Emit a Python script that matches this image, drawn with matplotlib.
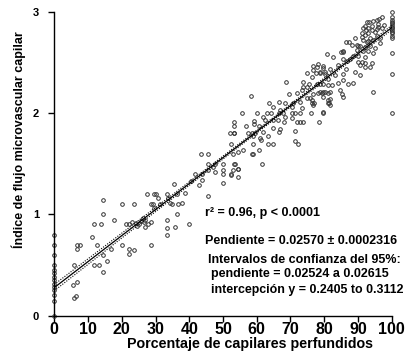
import numpy as np
import matplotlib
matplotlib.use("Agg")
import matplotlib.pyplot as plt

plt.rcParams["font.family"] = ["Liberation Sans", "DejaVu Sans"]
plt.rcParams["font.weight"] = "bold"

# %% data (x = % perfused capillaries, y = MFI)
x_zero = [0] * 14
y_zero = [0.80, 0.70, 0.60, 0.50, 0.45, 0.42, 0.38, 0.35, 0.31, 0.28, 0.25, 0.20, 0.14, 0.0]

x_low = [5.7, 5.4, 5.7, 6.4, 6.8, 6.6, 7.6, 6.6, 11.2, 11.9, 11.9, 12.6, 13.3, 13.7,
         14.3, 14.3, 14.3, 14.3, 15.5, 16.8, 17.8, 20.1, 20.1, 21.3, 22.0, 22.2, 22.2,
         23.1, 23.6, 23.6, 24.3, 26.9, 26.9, 27.4, 27.9, 28.6, 28.6, 29.2, 28.6, 29.6,
         30.2, 29.5, 30.7, 31.2, 33.3, 33.3, 33.3, 34.8, 35.5, 35.8, 36.3, 36.5, 36.8,
         33.8, 34.3, 26.4, 33.3, 25.2, 26.6, 25.8, 24.6]
y_low = [0.50, 0.30, 0.17, 0.19, 0.33, 0.70, 0.70, 0.66, 0.78, 0.90, 0.50, 0.70, 0.50, 0.90,
         1.14, 1.00, 0.60, 0.43, 0.54, 0.66, 0.94, 1.10, 0.70, 0.90, 0.90, 0.66, 0.61,
         0.92, 1.10, 0.65, 0.91, 0.94, 0.87, 1.20, 0.90, 0.70, 1.10, 1.10, 0.92, 1.20,
         1.20, 1.06, 1.16, 1.10, 1.20, 0.94, 0.80, 1.10, 1.30, 0.87, 1.20, 1.00, 1.10,
         1.16, 1.11, 0.96, 0.86, 0.90, 0.92, 0.93, 0.88]

x_mid = [52.1, 52.4, 43.5, 45.5, 54.5, 41.7, 43.7, 45.6, 47.6, 49.9, 47.6, 49.9, 52.4,
         54.5, 45.6, 43.7, 49.9, 42.9, 38.7, 45.5, 37.8, 39.9, 50.1, 53.4, 53.0, 54.5,
         53.4, 53.4, 59.3, 61.2, 63.4, 59.0, 60.6, 40.5, 47.0]
y_mid = [1.80, 1.70, 1.60, 1.60, 1.62, 1.40, 1.40, 1.50, 1.50, 1.50, 1.42, 1.40, 1.40,
         1.37, 1.44, 1.34, 1.31, 1.29, 1.21, 1.18, 1.11, 0.90, 1.44, 1.50, 1.44, 1.45,
         1.87, 1.80, 1.89, 1.73, 1.77, 1.60, 1.64, 1.33, 1.47]

x_high = [76.6, 78.2, 79.7, 75.0, 77.6, 78.8, 80.2, 76.3, 73.8, 75.5, 68.7, 73.6, 74.8,
          77.8, 78.8, 79.7, 81.2, 73.3, 78.1, 79.3, 81.2, 69.7, 71.8, 76.6, 58.3, 74.8,
          75.8, 79.7, 72.8, 70.8, 63.7, 66.7, 68.4, 76.3, 76.8, 81.0, 81.5, 70.4, 73.3,
          64.9, 55.5, 60.0, 63.1, 64.2, 66.7, 67.9, 70.4, 71.3, 72.8, 76.1, 79.7, 67.0,
          68.4, 61.9, 64.9, 66.4, 70.4, 59.3, 62.4, 68.2, 71.8, 72.8, 73.8, 78.5, 53.4,
          56.8, 60.8, 64.7, 66.9, 66.7, 71.3, 53.3, 57.5, 58.5, 59.5, 61.9, 59.0, 61.0,
          71.3, 72.3, 63.2, 64.7, 59.0, 56.0, 58.5, 52.9, 53.6, 54.5, 61.5, 52.3]
y_high = [2.47, 2.49, 2.45, 2.40, 2.40, 2.40, 2.39, 2.36, 2.31, 2.29, 2.31, 2.26, 2.26,
          2.29, 2.29, 2.29, 2.28, 2.23, 2.20, 2.20, 2.20, 2.19, 2.20, 2.19, 2.17, 2.15,
          2.15, 2.16, 2.11, 2.10, 2.10, 2.11, 2.10, 2.10, 2.08, 2.13, 2.10, 2.06, 2.05,
          2.06, 2.00, 2.00, 2.00, 2.00, 2.00, 2.00, 2.00, 2.00, 2.00, 2.00, 2.00, 2.03,
          1.96, 1.96, 1.93, 1.93, 1.95, 1.92, 1.93, 1.91, 1.91, 1.91, 1.91, 1.91, 1.91,
          1.87, 1.87, 1.85, 1.84, 1.81, 1.82, 1.80, 1.80, 1.80, 1.80, 1.81, 1.77, 1.75,
          1.72, 1.70, 1.70, 1.70, 1.70, 1.64, 1.60, 1.60, 1.50, 1.45, 1.50, 1.39]

x_top = [97.0, 96.3, 95.5, 94.5, 93.4, 92.6, 97.7, 96.0, 97.0, 91.6, 92.4, 94.1, 95.1,
         91.1, 92.1, 93.1, 95.5, 96.5, 93.6, 94.6, 91.6, 92.6, 89.1, 86.5, 87.4, 88.1,
         89.6, 90.6, 92.1, 93.6, 95.1, 96.5, 91.6, 93.1, 94.6, 85.7, 88.6, 90.1, 92.1,
         80.7, 82.5, 84.9, 85.7, 87.6, 90.1, 91.1, 92.1, 94.1, 85.7, 86.7, 84.2, 90.6,
         92.1, 93.6, 86.5, 77.8, 79.7, 76.8, 78.8, 80.2, 81.7, 85.5, 83.2, 89.1, 90.6,
         81.2, 84.2, 85.7, 87.1, 88.6, 82.2, 78.8, 79.6, 80.2, 81.7, 84.7, 85.2, 85.7,
         94.6, 81.7, 81.2, 81.7, 76.3, 77.0, 79.7, 92.1, 92.9, 95.8, 94.1, 91.1, 90.1,
         95.6, 89.6, 93.1]
y_top = [2.95, 2.93, 2.92, 2.91, 2.90, 2.90, 2.87, 2.85, 2.84, 2.84, 2.82, 2.82, 2.80,
         2.79, 2.77, 2.79, 2.76, 2.74, 2.74, 2.72, 2.72, 2.70, 2.74, 2.70, 2.70, 2.67,
         2.67, 2.66, 2.65, 2.66, 2.64, 2.69, 2.61, 2.61, 2.59, 2.61, 2.57, 2.57, 2.56,
         2.58, 2.56, 2.60, 2.60, 2.54, 2.51, 2.51, 2.50, 2.50, 2.54, 2.52, 2.48, 2.48,
         2.46, 2.46, 2.44, 2.46, 2.47, 2.43, 2.41, 2.41, 2.44, 2.39, 2.38, 2.41, 2.38,
         2.34, 2.30, 2.33, 2.29, 2.30, 2.28, 2.21, 2.21, 2.21, 2.21, 2.23, 2.19, 2.16,
         2.21, 2.14, 2.10, 2.08, 2.13, 2.10, 2.01, 2.86, 2.84, 2.88, 2.86, 2.75, 2.66,
         2.83, 2.62, 2.71]

x_full = [100] * 16
y_full = [3.00, 2.95, 2.92, 2.90, 2.89, 2.87, 2.85, 2.84, 2.82, 2.80, 2.79, 2.76, 2.74,
          2.59, 2.39, 2.00]

# regression results printed on the chart
slope = 0.02570
se_slope = 0.0002316
intercept = (0.2405 + 0.3112) / 2
t_crit = 1.966

xs = np.array(x_zero + x_low + x_mid + x_high + x_top + x_full, dtype=float)
ys = np.array(y_zero + y_low + y_mid + y_high + y_top + y_full, dtype=float)

# %% confidence band from the stated slope error
xbar = xs.mean()
sxx = ((xs - xbar) ** 2).sum()
s2 = se_slope ** 2 * sxx
xl = np.linspace(0, 100, 200)
yl = intercept + slope * xl
half = t_crit * np.sqrt(s2 / len(xs) + (xl - xbar) ** 2 * se_slope ** 2)

fig = plt.figure(figsize=(4.10, 3.58), dpi=100)
ax = fig.add_axes([54.3 / 410, 1 - 315.5 / 358, (391.7 - 54.3) / 410, (315.5 - 12) / 358])

ax.plot(xs, ys, "o", ms=2.6, mfc="none", mec="#333333", mew=0.7, clip_on=False)
ax.plot(xl, yl, color="black", lw=0.9)
ax.plot(xl, yl + half, color="black", lw=0.8, ls=(0, (1, 1.3)))
ax.plot(xl, yl - half, color="black", lw=0.8, ls=(0, (1, 1.3)))

ax.set_xlim(0, 100)
ax.set_ylim(0, 3)
ax.set_xticks(range(0, 101, 10))
ax.set_yticks([0, 1, 2, 3])
for side in ["top", "right"]:
    ax.spines[side].set_visible(False)
for side in ["left", "bottom"]:
    ax.spines[side].set_linewidth(1.0)
ax.tick_params(axis="x", direction="out", length=4, width=1, pad=1, labelsize=11.5)
ax.tick_params(axis="y", direction="out", length=4, width=1, pad=7, labelsize=8)

ax.set_xlabel("Porcentaje de capilares perfundidos", fontsize=10.3, fontweight="bold")
ax.xaxis.set_label_coords(0.58, -0.07)
ax.set_ylabel("Índice de flujo microvascular capilar", fontsize=9, fontweight="bold")
ax.yaxis.set_label_coords(-0.085, 0.578)

# %% stats text
fs = 9.0
fig.text(205 / 410, 1 - 213 / 358, "r² = 0.96, p < 0.0001", fontsize=fs, va="center")
fig.text(205 / 410, 1 - 241.5 / 358, "Pendiente = 0.02570 ± 0.0002316", fontsize=fs, va="center")
fig.text(208 / 410, 1 - 260 / 358, "Intervalos de confianza del 95%:", fontsize=fs, va="center")
fig.text(211 / 410, 1 - 274 / 358, "pendiente = 0.02524 a 0.02615", fontsize=fs, va="center")
fig.text(211 / 410, 1 - 290 / 358, "intercepción y = 0.2405 to 0.3112", fontsize=8.9, va="center")

fig.savefig("out.png", dpi=100)
